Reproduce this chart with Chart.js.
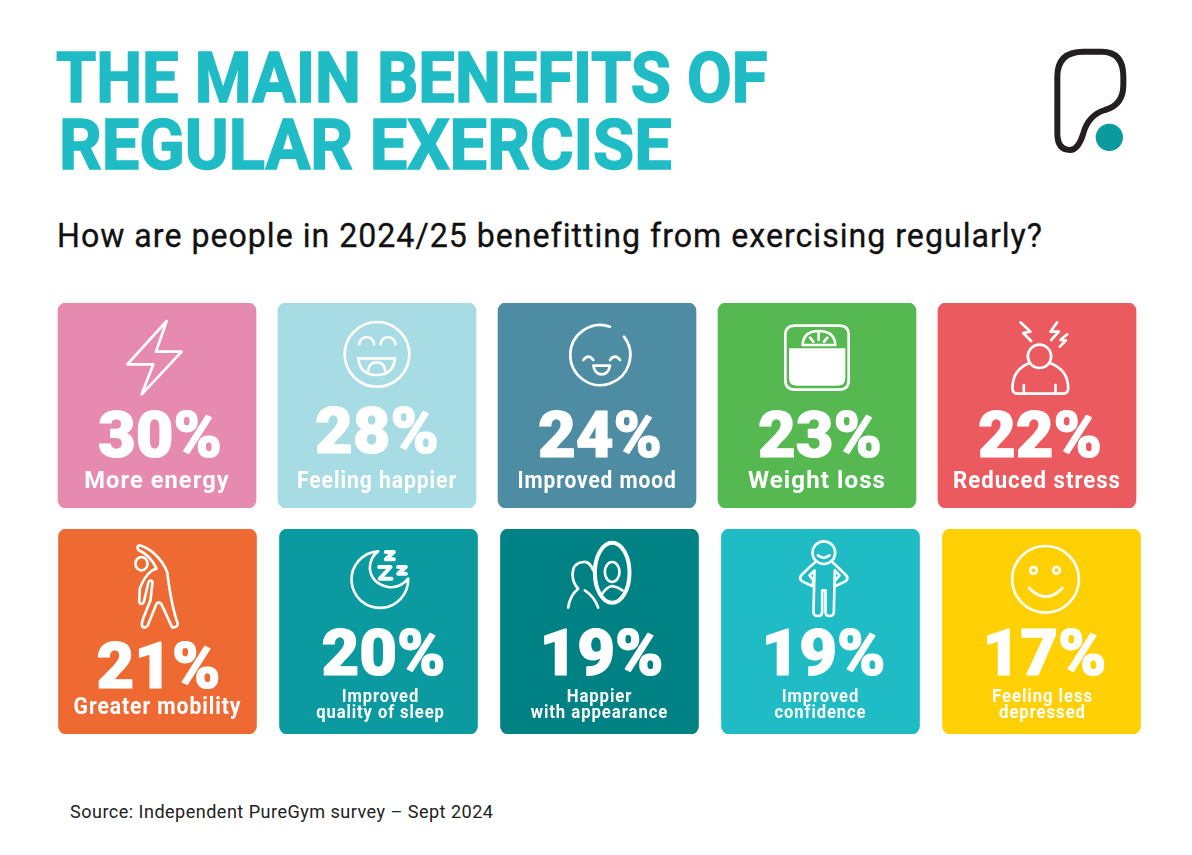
<!DOCTYPE html>
<html>
<head>
<meta charset="utf-8">
<title>The main benefits of regular exercise</title>
<script src="https://cdn.jsdelivr.net/npm/chart.js@4/dist/chart.umd.min.js"></script>
<style>
  html, body { margin: 0; background: #fff; }
  body { position: relative; width: 1192px; height: 855px; overflow: hidden; font-family: Roboto, sans-serif; }
  canvas { position: absolute; }
  #rowOne { left: 47px; top: 303px; }
  #rowTwo { left: 47px; top: 529px; }
  .txt { position: absolute; white-space: nowrap; transform-origin: left top; }
  .title { color: #1fbcc6; font-weight: 700; font-size: 71px; line-height: 72px; -webkit-text-stroke: 1.6px #1fbcc6; }
  #sub { left: 57px; top: 216px; font-size: 33px; line-height: 40px; color: #111; letter-spacing: 1px; transform: scaleX(.975); -webkit-text-stroke: .3px #111; }
  #src { left: 70px; top: 800px; font-size: 19px; line-height: 24px; color: #222; letter-spacing: .5px; transform: scaleX(.95); }
  #logo { position: absolute; left: 1030px; top: 30px; }
</style>
</head>
<body>
<div class="txt title" style="left:56px;top:42px;transform:scaleX(.915)">THE MAIN BENEFITS OF</div>
<div class="txt title" style="left:59px;top:109px;transform:scaleX(.94)">REGULAR EXERCISE</div>
<div class="txt" id="sub">How are people in 2024/25 benefitting from exercising regularly?</div>
<svg id="logo" width="120" height="140" viewBox="0 0 360 420">
  <path d="M82 310V140Q82 65 160 65H215Q280 65 280 140V165Q280 225 225 240Q175 255 160 310Q145 360 120 360Q82 360 82 310Z" fill="none" stroke="#231f20" stroke-width="18"/>
  <circle cx="238" cy="322" r="41" fill="#0a9aa0"/>
</svg>
<canvas id="rowOne" width="1100" height="205"></canvas>
<canvas id="rowTwo" width="1105" height="205"></canvas>
<div class="txt" id="src">Source: Independent PureGym survey – Sept 2024</div>

<script>
// top row
const rowOneLabels = ["More energy", "Feeling happier", "Improved mood", "Weight loss", "Reduced stress"];
const rowOneValues = [30, 28, 24, 23, 22];
const rowOneColors = ["#e68aaf", "#a8dce4", "#4d8ca3", "#55b851", "#eb5a5f"];

// bottom row, long labels wrap on two lines
const rowTwoLabels = ["Greater mobility", ["Improved", "quality of sleep"], ["Happier", "with appearance"], ["Improved", "confidence"], ["Feeling less", "depressed"]];
const rowTwoValues = [21, 20, 19, 19, 17];
const rowTwoColors = ["#ef6a32", "#0a9aa0", "#008285", "#1fbcc6", "#ffd105"];

// every tile fills its row, the size does not follow the percentage
const tileFill = [1, 1, 1, 1, 1];

// where the big number sits in each tile, and how wide each label runs
const rowOneBase = [154, 150, 154, 154, 154];
const rowTwoBase = [159, 146, 146, 146, 146];
const rowOneShift = [3, 0, 3, 3, 3];
const rowTwoShift = [1, 5, 2, 3, 3];
const rowOneFit = [1.03, 0.92, 0.91, 1.05, 0.966];
const rowTwoFit = [0.92, 0.92, 0.93, 0.92, 0.93];
const rowTwoNudge = [0, 2, 0, 0, 1];

// icons traced at 3x, ox/oy = tile centre and top in the same units
const rowOneIcons = [
  { ox: 321, oy: 24, d: "M350 78L232 208H310L275 298L395 170H318Z" },
  { ox: 981, oy: 24, d: "M1078 178A97 97 0 1 1 884 178A97 97 0 1 1 1078 178ZM928 148A22 22 0 0 1 972 148M992 148A22 22 0 0 1 1036 148M925 190H1035Q1030 240 980 240Q930 240 925 190ZM955 226Q957 202 980 202Q1003 202 1005 226" },
  { ox: 321, oy: 24, d: "M402 125A90 90 0 1 1 360 95M280 195Q295 175 310 195M360 195Q375 175 390 195M310 212H360Q355 238 335 238Q315 238 310 212Z" },
  { ox: 981, oy: 24, d: "M915 92H1048Q1076 92 1076 120V256Q1076 284 1048 284H915Q886 284 886 256V120Q886 92 915 92ZM938 150Q940 108 986 108Q1034 108 1036 150ZM986 112V135M960 128L970 140M1012 128L1002 140", fill: "M897 160H1066V250Q1066 272 1044 272H919Q897 272 897 250Z" },
  { ox: 349.5, oy: 24, d: "M392 184A35 35 0 1 1 322 184A35 35 0 1 1 392 184ZM325 205Q276 225 276 280Q276 296 290 296H428Q443 296 443 280Q443 225 390 205M310 270V296M405 270V296M300 82L330 110L308 114L332 138M410 82L390 110L415 110L392 135M440 118L420 135L436 136L418 155" }
];
const rowTwoIcons = [
  { ox: 321, oy: 21, d: "M268 70C300 80 335 110 350 150C355 190 365 260 382 305Q380 318 365 316L332 245Q325 238 318 245L292 310Q285 320 277 315Q272 310 276 295L300 235L306 180Q302 170 294 180L280 240Q272 252 266 240L268 200Q280 165 305 145L318 140Q300 100 265 85Q255 72 268 70ZM291 125A18 20 0 1 1 255 125A18 20 0 1 1 291 125Z" },
  { ox: 986, oy: 21, d: "M985 88A85 85 0 1 0 1075 170Q1050 200 1015 195Q965 185 960 140Q960 105 985 88Z", heavy: "M988 135H1022L990 170H1025M1008 90H1032L1008 112H1032M1045 135H1068L1045 155H1068" },
  { ox: 329, oy: 21, d: "M389 150A22 30 0 1 1 345 150A22 30 0 1 1 389 150ZM335 218Q350 195 367 192Q385 195 398 205M310 145Q300 118 280 120Q248 122 248 160Q250 185 265 200Q240 220 235 257M285 205Q315 225 325 257", heavy: "M419 152A52 90 0 1 1 315 152A52 90 0 1 1 419 152Z" },
  { ox: 993, oy: 21, d: "M1037 92A34 34 0 1 1 969 92A34 34 0 1 1 1037 92ZM985 100Q1003 115 1020 100M978 120Q965 130 935 160Q928 170 938 178L968 192L972 175L960 160L975 145L972 270Q972 282 985 282Q998 282 998 270V205H1008V270Q1008 282 1020 282Q1033 282 1033 270L1036 145L1050 160L1035 178L1038 192L1068 178Q1078 170 1070 160Q1040 130 1028 120" },
  { ox: 337, oy: 21, d: "M449 172A100 100 0 1 1 249 172A100 100 0 1 1 449 172ZM323 145A10 10 0 1 1 303 145A10 10 0 1 1 323 145ZM392 145A10 10 0 1 1 372 145A10 10 0 1 1 392 145ZM300 198Q350 250 400 198" }
];

function squeezed(ctx, text, x, y, font, sx, spacing, thick) {
  ctx.save();
  ctx.translate(x, y);
  ctx.scale(sx, 1);
  ctx.font = font;
  ctx.letterSpacing = spacing;
  if (thick) {
    ctx.strokeStyle = "#fff";
    ctx.lineWidth = thick;
    ctx.lineJoin = "round";
    ctx.strokeText(text, 0, 0);
  }
  ctx.fillText(text, 0, 0);
  ctx.restore();
}

function tilePlugin(values, base, shift, fit, nudge, icons) {
  return {
    id: "tileContent",
    afterDatasetsDraw(chart) {
      const ctx = chart.ctx;
      const labels = chart.data.labels;
      chart.getDatasetMeta(0).data.forEach((bar, i) => {
        const top = bar.y;

        // icon
        const ic = icons[i];
        ctx.save();
        ctx.translate(bar.x, top);
        ctx.scale(1 / 3, 1 / 3);
        ctx.translate(-ic.ox, -ic.oy);
        ctx.strokeStyle = "#fff";
        ctx.fillStyle = "#fff";
        ctx.lineWidth = 8;
        ctx.lineJoin = "round";
        ctx.lineCap = "round";
        if (ic.fill) ctx.fill(new Path2D(ic.fill));
        ctx.stroke(new Path2D(ic.d));
        if (ic.heavy) {
          ctx.lineWidth = 12;
          ctx.stroke(new Path2D(ic.heavy));
        }
        ctx.restore();

        // number and label
        ctx.save();
        ctx.fillStyle = "#fff";
        ctx.textAlign = "center";
        ctx.textBaseline = "alphabetic";
        squeezed(ctx, values[i] + "%", bar.x + shift[i], top + base[i], "900 64px Roboto", 1.02, "0px", 1.2);
        const lab = labels[i];
        const lx = bar.x + (nudge ? nudge[i] : 0);
        if (Array.isArray(lab)) {
          squeezed(ctx, lab[0], lx, top + 173, "700 18px Roboto", fit[i], "1px");
          squeezed(ctx, lab[1], lx, top + 188.5, "700 18px Roboto", fit[i], "1px");
        } else {
          squeezed(ctx, lab, lx, top + 185, "700 23px Roboto", fit[i], "1px");
        }
        ctx.restore();
      });
    }
  };
}

function tileRow(id, labels, values, colors, base, shift, fit, nudge, icons) {
  return new Chart(document.getElementById(id), {
    type: "bar",
    data: {
      labels: labels,
      datasets: [{
        data: tileFill,
        backgroundColor: colors,
        borderRadius: 8,
        borderSkipped: false,
        barThickness: 198
      }]
    },
    options: {
      responsive: false,
      animation: false,
      devicePixelRatio: 1,
      layout: { padding: 0 },
      scales: {
        x: { display: false },
        y: { display: false, min: 0, max: 1 }
      },
      plugins: { legend: { display: false }, tooltip: { enabled: false } }
    },
    plugins: [tilePlugin(values, base, shift, fit, nudge, icons)]
  });
}

tileRow("rowOne", rowOneLabels, rowOneValues, rowOneColors, rowOneBase, rowOneShift, rowOneFit, null, rowOneIcons);
tileRow("rowTwo", rowTwoLabels, rowTwoValues, rowTwoColors, rowTwoBase, rowTwoShift, rowTwoFit, rowTwoNudge, rowTwoIcons);
</script>
</body>
</html>
